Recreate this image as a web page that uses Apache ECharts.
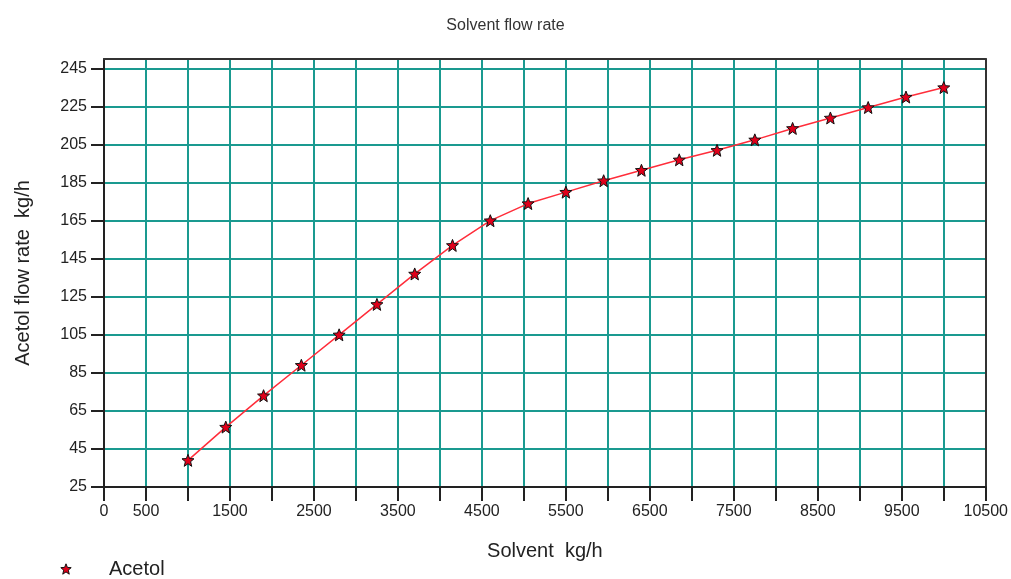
<!DOCTYPE html>
<html>
<head>
<meta charset="utf-8">
<script src="https://cdn.jsdelivr.net/npm/echarts@6/dist/echarts.min.js"></script>
<style>
html,body{margin:0;padding:0;background:#fff;}
#chart{width:1011px;height:579px;}
</style>
</head>
<body>
<div id="chart"></div>
<script>
var solvent = [1000,1450,1900,2350,2800,3250,3700,4150,4600,5050,5500,5950,6400,6850,7300,7750,8200,8650,9100,9550,10000];
var acetol = [39,56.5,73,89,105,121,137,152,165,174,180,186,191.5,197,202,207.5,213.5,219,224.5,230,235];
var yTicks = [25,45,65,85,105,125,145,165,185,205,225,245];
var xTicks = [0,500,1000,1500,2000,2500,3000,3500,4000,4500,5000,5500,6000,6500,7000,7500,8000,8500,9000,9500,10000,10500];
var xLabels = [0,500,1500,2500,3500,4500,5500,6500,7500,8500,9500,10500];

var FONT = 'Liberation Sans, Arial, sans-serif';
var STAR = 'path://M50,0 L63,33 L98,35 L71,58 L80,95 L50,74 L20,95 L29,58 L2,35 L37,33 Z';
var points = solvent.map(function (x, i) { return [x, acetol[i]]; });

var chart = echarts.init(document.getElementById('chart'));
chart.setOption({
  animation: false,
  backgroundColor: '#fff',
  textStyle: { fontFamily: FONT },
  title: {
    text: 'Solvent flow rate',
    left: 'center',
    top: 13,
    textStyle: { fontSize: 16, fontWeight: 'normal', color: '#333', fontFamily: FONT }
  },
  legend: {
    left: 27,
    top: 559,
    padding: 0,
    itemWidth: 76,
    itemHeight: 13,
    lineStyle: { opacity: 0 },
    itemStyle: { color: '#e0001a', borderColor: '#111', borderWidth: 1 },
    textStyle: { fontSize: 20, color: '#222', fontFamily: FONT },
    data: ['Acetol']
  },
  grid: { left: 104, right: 25, top: 59, bottom: 92, containLabel: false },
  xAxis: [{
    type: 'value',
    min: 0, max: 10500, interval: 500,
    name: 'Solvent  kg/h',
    nameLocation: 'middle',
    nameGap: 54,
    nameTextStyle: { fontSize: 20, color: '#222', fontFamily: FONT },
    axisLine: { show: true, onZero: false, lineStyle: { color: '#222', width: 2 } },
    axisTick: { show: true, length: 14, customValues: xTicks, lineStyle: { color: '#222', width: 2 } },
    axisLabel: {
      customValues: xLabels, fontSize: 16, color: '#222', margin: 17, fontFamily: FONT,
      formatter: function (v) { return String(v); }
    },
    splitLine: { show: true, lineStyle: { color: '#1a9a90', width: 2 } }
  }, {
    type: 'value', position: 'top',
    min: 0, max: 10500,
    axisLine: { show: true, onZero: false, lineStyle: { color: '#333', width: 2 } },
    axisTick: { show: false }, axisLabel: { show: false }, splitLine: { show: false }
  }],
  yAxis: [{
    type: 'value',
    min: 25, max: 250, interval: 20,
    name: 'Acetol flow rate  kg/h',
    nameLocation: 'middle',
    nameGap: 71,
    nameTextStyle: { fontSize: 20, color: '#222', fontFamily: FONT },
    axisLine: { show: true, onZero: false, lineStyle: { color: '#222', width: 2 } },
    axisTick: { show: true, length: 13, customValues: yTicks, lineStyle: { color: '#222', width: 2 } },
    axisLabel: {
      customValues: yTicks, fontSize: 16, color: '#222', margin: 17, fontFamily: FONT,
      formatter: function (v) { return String(v); }
    },
    splitLine: { show: true, lineStyle: { color: '#1a9a90', width: 2 } }
  }, {
    type: 'value', position: 'right',
    min: 25, max: 250,
    axisLine: { show: true, onZero: false, lineStyle: { color: '#333', width: 2 } },
    axisTick: { show: false }, axisLabel: { show: false }, splitLine: { show: false }
  }],
  series: [{
    name: 'Acetol',
    type: 'line',
    data: points,
    symbol: STAR,
    symbolSize: 12,
    lineStyle: { color: '#ff2d3a', width: 1.5 },
    itemStyle: { color: '#e0001a', borderColor: '#111', borderWidth: 1 },
    z: 5
  }]
});
</script>
</body>
</html>
